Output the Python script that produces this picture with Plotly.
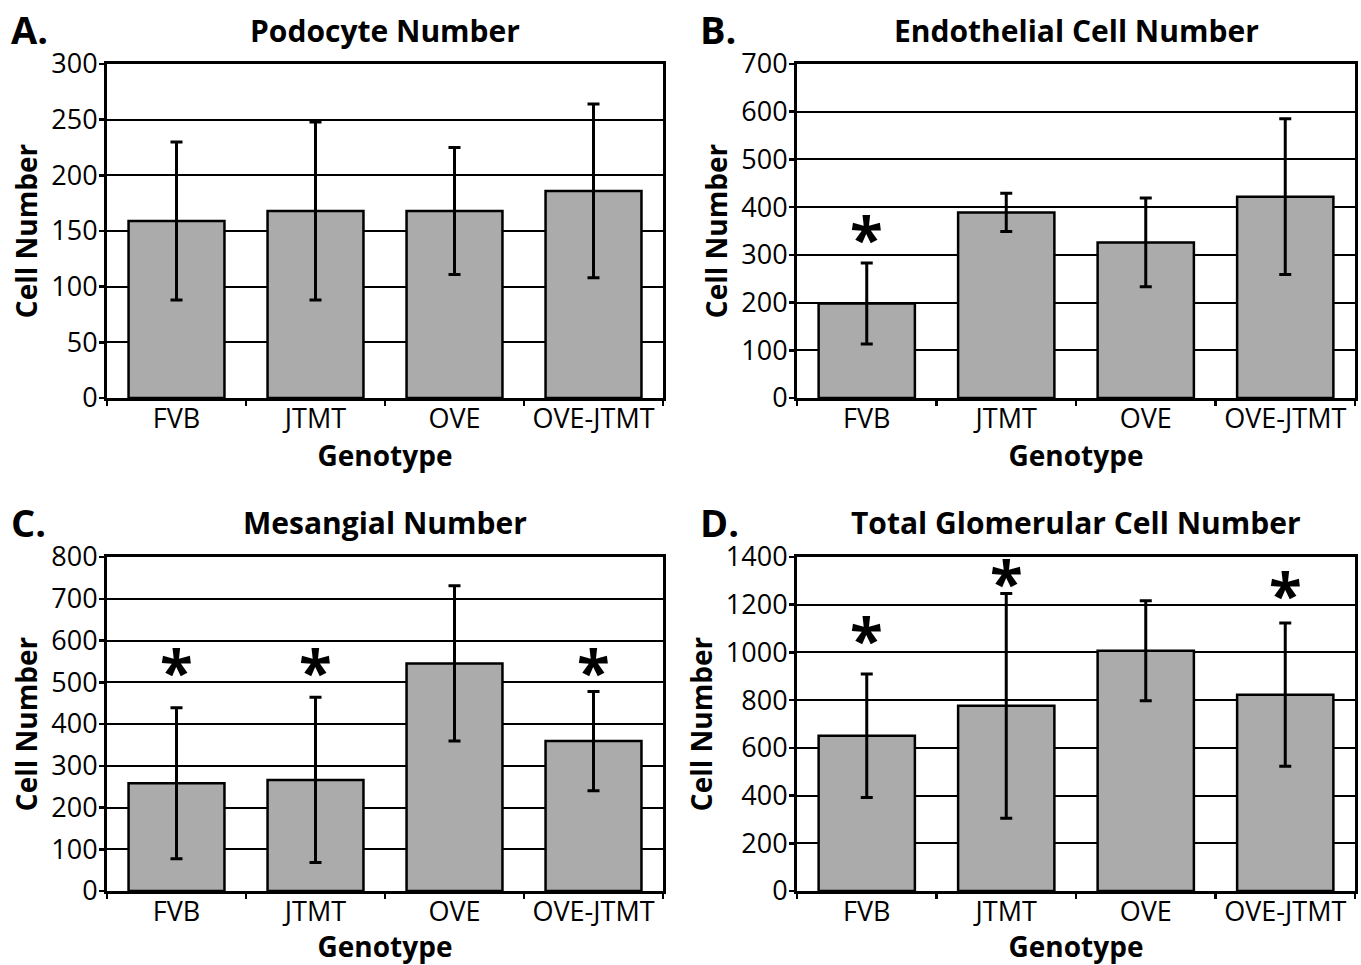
import plotly.graph_objects as go

genotypes = ["FVB", "JTMT", "OVE", "OVE-JTMT"]

podocyte_mean = [159, 168, 168, 186]
podocyte_err = [71, 80, 57, 78]

endothelial_mean = [198, 389, 326, 422]
endothelial_err = [85, 40, 93, 163]

mesangial_mean = [258, 266, 545, 359]
mesangial_err = [181, 198, 186, 119]

total_mean = [651, 776, 1007, 823]
total_err = [259, 471, 210, 300]

titles = ["Podocyte Number", "Endothelial Cell Number", "Mesangial Number", "Total Glomerular Cell Number"]
panel_letters = ["A.", "B.", "C.", "D."]
y_ranges = [[0, 300], [0, 700], [0, 800], [0, 1400]]
y_dticks = [50, 100, 100, 200]

# significance markers: (category, y position of the asterisk)
star_B = [("FVB", 336)]
star_C = [("FVB", 526), ("JTMT", 526), ("OVE-JTMT", 526)]
star_D = [("FVB", 1058), ("JTMT", 1297), ("OVE-JTMT", 1247)]
stars = [[], star_B, star_C, star_D]

means = [podocyte_mean, endothelial_mean, mesangial_mean, total_mean]
errs = [podocyte_err, endothelial_err, mesangial_err, total_err]

W, H = 1361, 965


def px(sx):
    return sx / W


def py(sy):
    return 1 - sy / H


x_doms = [[px(107), px(663)], [px(797), px(1355)]]
y_doms = [[py(398), py(64)], [py(891), py(557)]]
title_y = [30, 522]
letter_x = [9, 698]
letter_y = [29, 522]

tick_font = dict(family="Open Sans, sans-serif", size=27, color="black")
bold_font = "Open Sans, DejaVu Sans, sans-serif"

fig = go.Figure()
for i in range(4):
    r, c = divmod(i, 2)
    xa = "x" if i == 0 else f"x{i+1}"
    ya = "y" if i == 0 else f"y{i+1}"
    fig.add_trace(go.Bar(
        x=genotypes, y=means[i], xaxis=xa, yaxis=ya,
        marker=dict(color="#ababab", line=dict(color="black", width=2.5)),
        error_y=dict(type="data", array=errs[i], visible=True, color="black", thickness=3, width=6),
        width=0.69, showlegend=False, hoverinfo="skip",
    ))
    xk = "xaxis" if i == 0 else f"xaxis{i+1}"
    yk = "yaxis" if i == 0 else f"yaxis{i+1}"
    fig.layout[xk] = dict(
        domain=x_doms[c], anchor=ya, type="category", automargin=False,
        showline=True, linecolor="black", linewidth=3, mirror=True,
        ticks="outside", tickson="boundaries", ticklen=5, tickwidth=2.5, tickcolor="black",
        ticklabelstandoff=-5,
        tickfont=tick_font, showgrid=False,
        title=dict(text="<b>Genotype</b>", font=dict(family=bold_font, size=28, color="black"), standoff=0),
    )
    fig.layout[yk] = dict(
        domain=y_doms[r], anchor=xa, range=y_ranges[i], dtick=y_dticks[i], automargin=False,
        showline=True, linecolor="black", linewidth=3, mirror=True,
        ticks="outside", ticklen=5, tickwidth=2.5, tickcolor="black",
        ticklabelstandoff=-4,
        tickfont=tick_font, showgrid=True, gridcolor="black", gridwidth=2,
        zeroline=False,
        title=dict(text="<b>Cell Number</b>", font=dict(family=bold_font, size=28, color="black"), standoff=6),
    )
    xd = x_doms[c]
    fig.add_annotation(
        x=(xd[0] + xd[1]) / 2, y=py(title_y[r]), xref="paper", yref="paper",
        text=f"<b>{titles[i]}</b>", showarrow=False, xanchor="center", yanchor="middle",
        font=dict(family=bold_font, size=30, color="black"),
    )
    fig.add_annotation(
        x=px(letter_x[c]), y=py(letter_y[r]), xref="paper", yref="paper",
        text=f"<b>{panel_letters[i]}</b>", showarrow=False, xanchor="left", yanchor="middle",
        font=dict(family=bold_font, size=38, color="black"),
    )
    for cat, yv in stars[i]:
        fig.add_annotation(
            x=cat, y=yv, xref=xa, yref=ya, text="<b>*</b>", showarrow=False,
            xanchor="center", yanchor="middle",
            font=dict(family=bold_font, size=60, color="black"),
        )

fig.update_layout(
    width=W, height=H, margin=dict(l=0, r=0, t=0, b=0, autoexpand=False),
    paper_bgcolor="white", plot_bgcolor="white", bargap=0.31,
)
fig.write_html(
    "out.html",
    config={"displayModeBar": False, "staticPlot": True},
    post_script="document.body.style.margin='0';document.body.style.overflow='hidden';",
)
